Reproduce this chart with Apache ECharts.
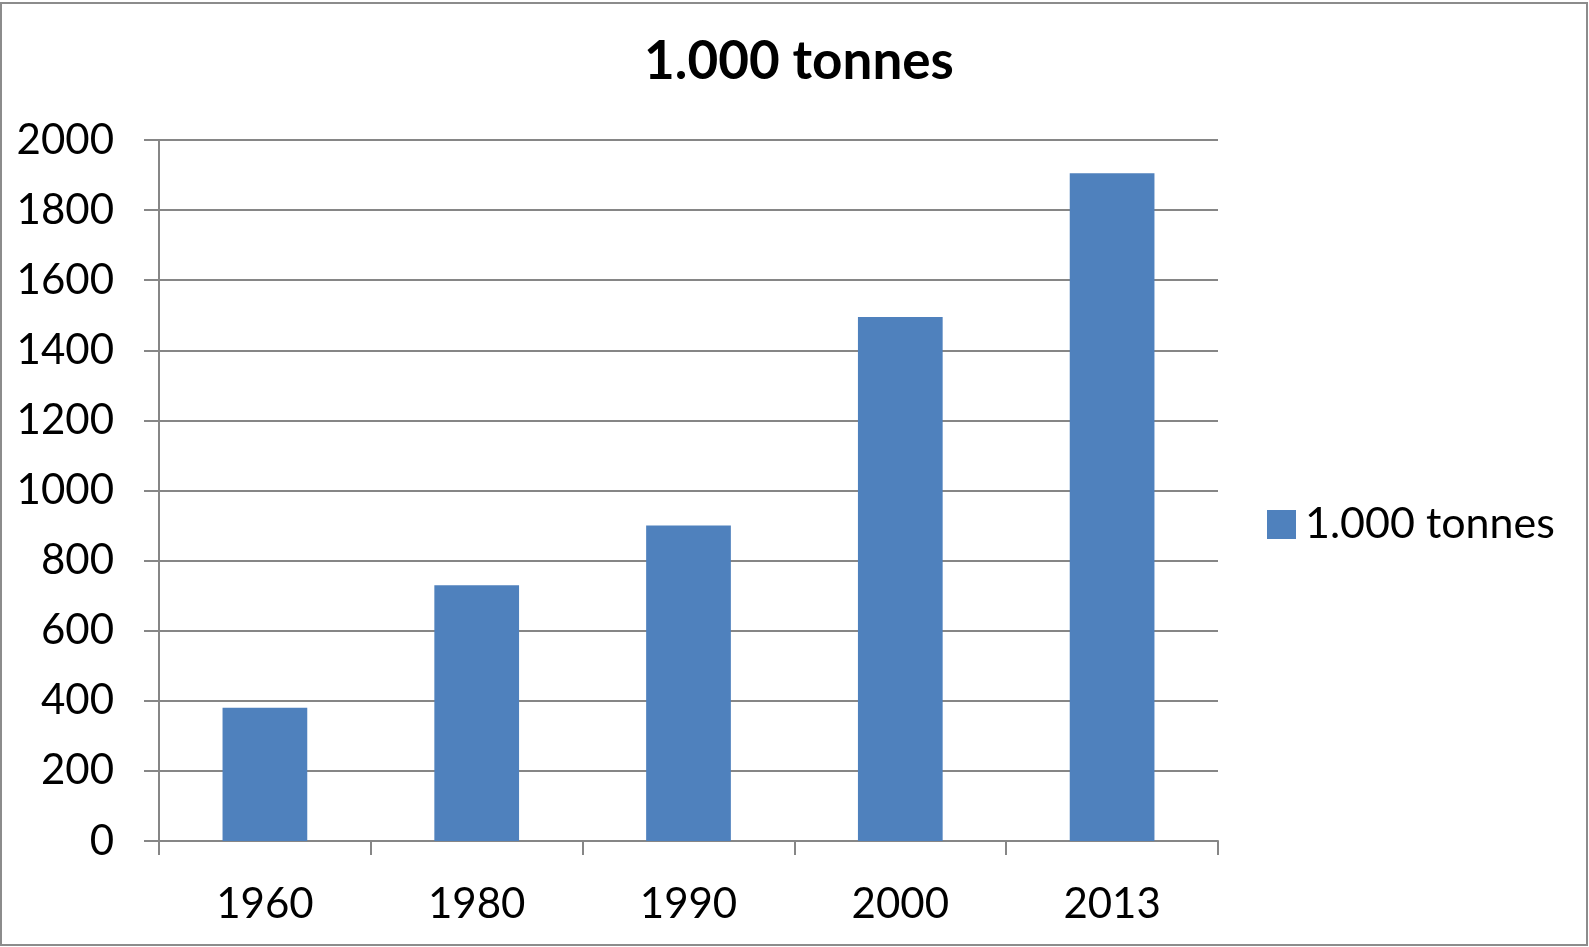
<!DOCTYPE html>
<html>
<head>
<meta charset="utf-8">
<title>1.000 tonnes</title>
<script src="https://cdn.jsdelivr.net/npm/echarts@6/dist/echarts.min.js"></script>
<style>
  html, body { margin: 0; padding: 0; background: #fff; }
  #chart { width: 1589px; height: 947px; }
</style>
</head>
<body>
<div id="chart"></div>
<script>
  var years = ['1960', '1980', '1990', '2000', '2013'];
  var tonnes = [380, 730, 900, 1495, 1905];
  var seriesName = '1.000 tonnes';

  var chartDom = document.getElementById('chart');
  var myChart = echarts.init(chartDom);
  var axisGray = '#868686';
  var option = {
    backgroundColor: '#fff',
    textStyle: { fontFamily: 'Lato' },
    graphic: [{
      type: 'rect',
      shape: { x: 1, y: 3, width: 1586, height: 942 },
      style: { fill: 'none', stroke: '#8c8c8c', lineWidth: 2 },
      silent: true
    }],
    title: {
      text: '1.000 tonnes',
      left: 794,
      textAlign: 'center',
      top: 30,
      textStyle: { fontFamily: 'Lato', fontWeight: 'bold', fontSize: 53, color: '#000' }
    },
    legend: {
      data: [seriesName],
      left: 1262,
      top: 498,
      itemWidth: 29,
      itemHeight: 29,
      itemGap: 10,
      icon: 'rect',
      textStyle: { fontFamily: 'Lato', fontSize: 43, color: '#000', padding: [0, 0, 0, 4] }
    },
    grid: {
      left: 159,
      right: 371,
      top: 140,
      bottom: 106,
      containLabel: false
    },
    xAxis: {
      type: 'category',
      data: years,
      axisLine: { lineStyle: { color: axisGray, width: 2 } },
      axisTick: { show: true, length: 14, lineStyle: { color: axisGray, width: 2 } },
      axisLabel: { fontFamily: 'Lato', fontSize: 42, color: '#000', margin: 42 }
    },
    yAxis: {
      type: 'value',
      min: 0,
      max: 2000,
      interval: 200,
      axisLine: { show: true, lineStyle: { color: axisGray, width: 2 } },
      axisTick: { show: true, length: 15, lineStyle: { color: axisGray, width: 2 } },
      axisLabel: {
        fontFamily: 'Lato', fontSize: 42, color: '#000', margin: 45,
        formatter: function (v) { return String(v); }
      },
      splitLine: { lineStyle: { color: axisGray, width: 2 } }
    },
    series: [{
      name: seriesName,
      type: 'bar',
      data: tonnes,
      barWidth: '40%',
      itemStyle: { color: '#4F81BD' }
    }]
  };
  option && myChart.setOption(option);
</script>
</body>
</html>
